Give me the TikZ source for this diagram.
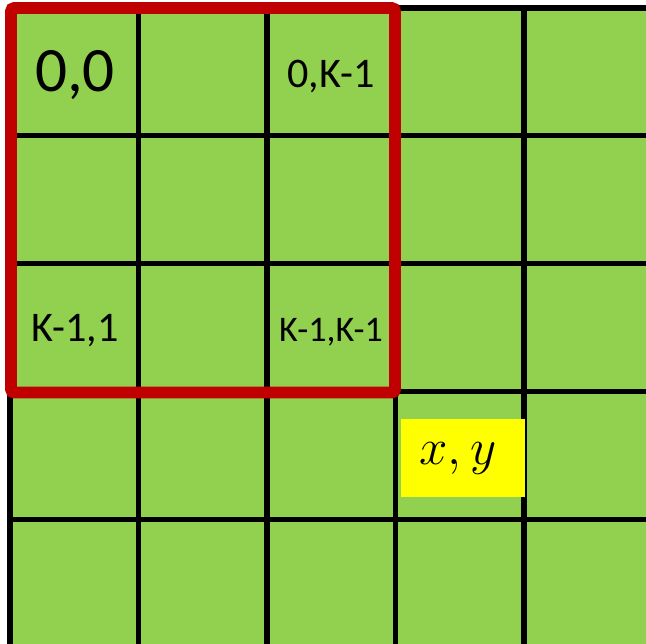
\RequirePackage{fix-cm}
\documentclass[tikz,border=0pt]{standalone}
\usepackage{fontspec}
\setmainfont{Carlito}
\definecolor{cellgreen}{HTML}{92D050}
\definecolor{blockred}{HTML}{C00000}
\definecolor{pixelyellow}{HTML}{FFFF00}

\begin{document}
\begin{tikzpicture}[
  x=0.02cm,y=-0.02cm,
  gridline/.style={draw=black,line width=2.9pt},
  block/.style={draw=blockred,line width=6.8pt,rounded corners=2pt},
  idx/.style={inner sep=0pt,font=\fontsize{24}{28}\selectfont},
  pixel/.style={fill=pixelyellow,inner sep=0pt,minimum width=2.48cm,
    minimum height=1.56cm,font=\fontsize{29}{32}\selectfont}
]
  \useasboundingbox (0,0) rectangle (646,644);
  \clip (0,0) rectangle (646,644);
  % image grid
  \fill[cellgreen] (10,8) rectangle (680,680);
  \foreach \i in {0,...,5} {
    \draw[gridline] (10+128.5*\i,8) -- (10+128.5*\i,680);
    \draw[gridline] (10,8+127.8*\i) -- (680,8+127.8*\i);
  }
  % K x K block
  \draw[block] (11,8) rectangle (395,392.5);
  \node[idx,font=\fontsize{36}{40}\selectfont] (origin) at (75,75) {0,0};
  \node[idx] (toprow) at (331,77) {0,K-1};
  \node[idx] (leftcol) at (75,331) {K-1,1};
  \node[idx,font=\fontsize{20.5}{24}\selectfont] (corner) at (331,332) {K-1,K-1};
  \node[pixel] (xy) at (463,458) {$x,y$\hspace*{0.2cm}};
\end{tikzpicture}
\end{document}
